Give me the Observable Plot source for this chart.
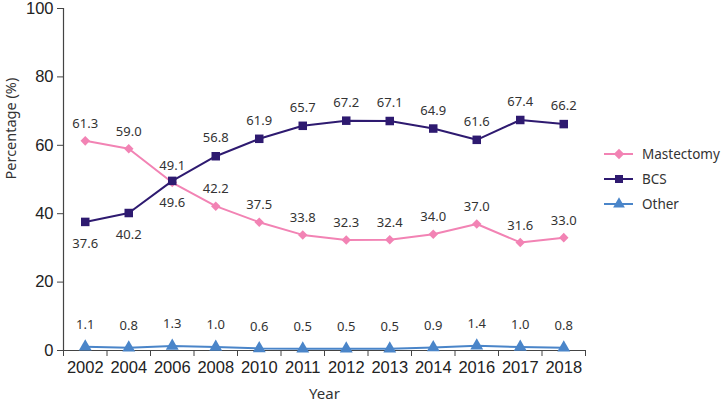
<!DOCTYPE html>
<html>
<head>
<meta charset="utf-8">
<script src="https://cdn.jsdelivr.net/npm/d3@7"></script>
<script src="https://cdn.jsdelivr.net/npm/@observablehq/plot@0.6"></script>
<style>
  html, body { margin: 0; padding: 0; background: #fff; }
  #wrap { position: relative; width: 724px; height: 406px; }
  #legend { position: absolute; left: 604px; top: 141px; font-family: "Noto Sans", sans-serif; font-size: 13.5px; color: #333; }
  #legend .row { display: flex; align-items: center; height: 25px; }
  #legend svg { margin-right: 8px; }
</style>
</head>
<body>
<div id="wrap"><div id="legend"></div></div>
<script>
const years = ["2002","2004","2006","2008","2010","2011","2012","2013","2014","2016","2017","2018"];
const mastectomy = [61.3, 59.0, 49.1, 42.2, 37.5, 33.8, 32.3, 32.4, 34.0, 37.0, 31.6, 33.0];
const bcs = [37.6, 40.2, 49.6, 56.8, 61.9, 65.7, 67.2, 67.1, 64.9, 61.6, 67.4, 66.2];
const other = [1.1, 0.8, 1.3, 1.0, 0.6, 0.5, 0.5, 0.5, 0.9, 1.4, 1.0, 0.8];
const yTicks = [0, 20, 40, 60, 80, 100];
const seriesNames = ["Mastectomy", "BCS", "Other"];
const colors = {Mastectomy: "#F283B4", BCS: "#2E1A70", Other: "#4A85C9"};
const symbols = {Mastectomy: "diamond2", BCS: "square", Other: "triangle"};

const rows = (name, vals) => vals.map((v, i) => ({series: name, idx: i + 0.5, year: years[i], value: v}));
const mRows = rows("Mastectomy", mastectomy);
const bRows = rows("BCS", bcs);
const oRows = rows("Other", other);
const edges = d3.range(years.length + 1);
const centers = years.map((_, i) => i + 0.5);

const tickFont = "'Liberation Sans', Arial, sans-serif";
const labelFont = "'Noto Sans', sans-serif";

function seriesMarks(data, name, r) {
  return [
    Plot.line(data, {x: "idx", y: "value", stroke: colors[name], strokeWidth: 2}),
    Plot.dot(data, {x: "idx", y: "value", fill: colors[name], stroke: "none", symbol: () => symbols[name], r})
  ];
}

const chart = Plot.plot({
  width: 724,
  height: 406,
  marginLeft: 63,
  marginRight: 139,
  marginTop: 8,
  marginBottom: 56,
  style: {fontFamily: tickFont, color: "#222", background: "#fff"},
  x: {type: "linear", domain: [0, years.length], axis: null},
  y: {domain: [0, 100], axis: null},
  symbol: {type: "identity"},
  marks: [
    Plot.ruleY([0], {stroke: "#444", strokeWidth: 1.2}),
    Plot.ruleX([0], {stroke: "#444", strokeWidth: 1.2}),
    Plot.axisY(yTicks, {anchor: "left", tickSize: 6, tickPadding: 4, fontSize: 16.5, stroke: "#444", fill: "#222", label: null, fontFamily: tickFont}),
    Plot.axisX(edges, {anchor: "bottom", tickSize: 6, tickFormat: () => "", stroke: "#444", label: null}),
    Plot.axisX(centers, {anchor: "bottom", tickSize: 0, tickPadding: 11, tickFormat: d => years[Math.floor(d)], fontSize: 16.5, fill: "#222", label: null, fontFamily: tickFont}),
    Plot.text(["Year"], {frameAnchor: "bottom", dy: 48, fontSize: 15, fontFamily: labelFont, fill: "#333"}),
    Plot.text(["Percentage (%)"], {frameAnchor: "left", dx: -52, rotate: -90, fontSize: 14.5, fontFamily: labelFont, fill: "#333"}),
    ...seriesMarks(oRows, "Other", 4.8),
    ...seriesMarks(mRows, "Mastectomy", 4.3),
    ...seriesMarks(bRows, "BCS", 4.8),
    Plot.text(mRows, {x: "idx", y: "value", text: d => d.value.toFixed(1), dy: -17, fontSize: 13, fontFamily: labelFont, fill: "#333"}),
    Plot.text(bRows, {x: "idx", y: "value", text: d => d.value.toFixed(1), fontSize: 13, fontFamily: labelFont, fill: "#333",
      filter: d => d.value >= 50, dy: -18}),
    Plot.text(bRows, {x: "idx", y: "value", text: d => d.value.toFixed(1), fontSize: 13, fontFamily: labelFont, fill: "#333",
      filter: d => d.value < 50, dy: 22}),
    Plot.text(oRows, {x: "idx", y: "value", text: d => d.value.toFixed(1), dy: -22, fontSize: 13, fontFamily: labelFont, fill: "#333"})
  ]
});
document.getElementById("wrap").prepend(chart);

// legend
const legend = d3.select("#legend");
const symPaths = {Mastectomy: d3.symbol(d3.symbolDiamond2, 70)(), BCS: d3.symbol(d3.symbolSquare, 64)(), Other: d3.symbol(d3.symbolTriangle, 60)()};
seriesNames.forEach(name => {
  const row = legend.append("div").attr("class", "row");
  const s = row.append("svg").attr("width", 30).attr("height", 14);
  s.append("line").attr("x1", 0).attr("x2", 29).attr("y1", 7).attr("y2", 7).attr("stroke", colors[name]).attr("stroke-width", 2);
  s.append("path").attr("d", symPaths[name]).attr("transform", "translate(15,7)").attr("fill", colors[name]);
  row.append("span").text(name);
});
</script>
</body>
</html>
